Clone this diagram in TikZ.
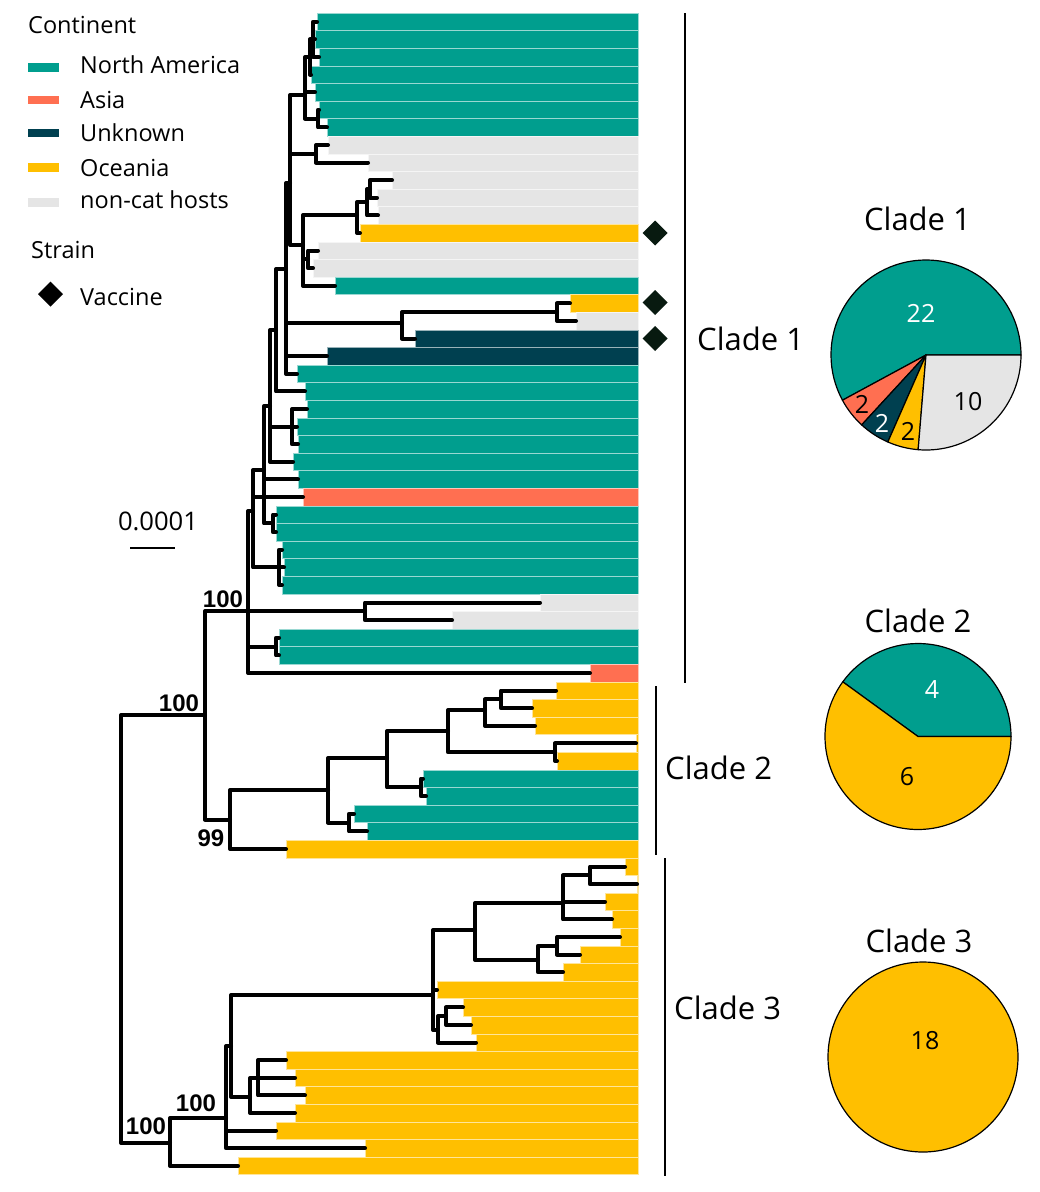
\documentclass[tikz,border=0pt]{standalone}
\usepackage{fontspec}
\setmainfont{Open Sans}
\newfontfamily\bsf{Liberation Sans}
\definecolor{na}{RGB}{0,158,142}
\definecolor{as}{RGB}{255,111,81}
\definecolor{un}{RGB}{0,64,80}
\definecolor{oc}{RGB}{255,191,0}
\definecolor{gr}{RGB}{229,229,229}
\definecolor{dia}{RGB}{8,26,16}
\newcommand\dmd[3]{\fill[#3] (#1,#2) ++(0,-12.5) -- ++(12.5,12.5) -- ++(-12.5,12.5) -- ++(-12.5,-12.5) -- cycle;}
\begin{document}
\begin{tikzpicture}[x=1pt,y=-1pt,
  br/.style={line width=4pt, line cap=round, line join=round},
  lg/.style={font=\fontsize{23.5}{28}\selectfont, inner sep=0pt, anchor=west, text height=16.8pt, text depth=0pt},
  cl/.style={font=\fontsize{31}{36}\selectfont, inner sep=0pt, text height=22.1pt, text depth=0pt},
  pn/.style={font=\fontsize{25}{30}\selectfont, inner sep=0pt, text height=17.9pt, text depth=0pt},
  bs/.style={font=\bsf\bfseries\fontsize{24}{28}\selectfont, inner sep=0pt, text height=17.2pt, text depth=0pt},
  pie/.style={draw=black, line width=1.2pt, line join=round},
  cline/.style={line width=2pt},
]
\useasboundingbox (0,0) rectangle (1040,1192);

% ---- bars and tips ----
\foreach \k/\x/\c in {0/317/na,1/315/na,2/319/na,3/311/na,4/315/na,5/319/na,6/327/na,
  7/328/gr,8/368/gr,9/392/gr,10/377/gr,11/378/gr,12/360/oc,13/318/gr,14/313/gr,15/335/na,
  16/570/oc,17/576/gr,18/415/un,19/327/un,20/297/na,21/305/na,22/307/na,23/297/na,24/298/na,
  25/293/na,26/298/na,27/303/as,28/276/na,29/276/na,30/282/na,31/284/na,32/282/na,33/540/gr,
  34/452/gr,35/279/na,36/279/na,37/590/as,38/556/oc,39/532/oc,40/535/oc,41/636/oc,42/557/oc,
  43/423/na,44/426/na,45/354/na,46/367/na,47/286/oc,48/625/oc,49/637/oc,50/605/oc,51/612/oc,
  52/620/oc,53/580/oc,54/563/oc,55/437/oc,56/463/oc,57/471/oc,58/476/oc,59/286/oc,60/295/oc,
  61/305/oc,62/295/oc,63/276/oc,64/365/oc,65/238/oc}{
  \fill[fill=\c, draw=white!60!\c, line width=0.35pt] (\x,{13+17.6*\k}) rectangle (638,{13+17.6*(\k+1)});
  \coordinate (t\k) at (\x,{21.8+17.6*\k});
}

% ---- internal nodes ----
\coordinate (ntopc) at (313,39.4);
\coordinate (ntopb) at (310,57);
\coordinate (ntop) at (305,95);
\coordinate (n56) at (318,118.6);
\coordinate (n78) at (316,153.8);
\coordinate (nc) at (370,189);
\coordinate (nb) at (367,202);
\coordinate (n912) at (357,215);
\coordinate (n1314) at (308,259.4);
\coordinate (n2) at (303,245);
\coordinate (n1) at (290,183);
\coordinate (n1617) at (557,312.2);
\coordinate (n1618) at (402,323);
\coordinate (m) at (286,269);
\coordinate (u4) at (276,330);
\coordinate (n2224) at (292,426.6);
\coordinate (u3) at (270,406);
\coordinate (n2829) at (273,523.4);
\coordinate (u2) at (264,470);
\coordinate (n3032) at (279,567.4);
\coordinate (u1) at (253,511);
\coordinate (n3334) at (365,611.4);
\coordinate (n3536) at (276,646.6);
\coordinate (c1) at (248,611);
\coordinate (c12) at (205,715);
\coordinate (root) at (121,900);
\coordinate (c2) at (230,819.5);
\coordinate (c2a) at (328,790);
\coordinate (c2b) at (387,758);
\coordinate (c2d) at (448,731);
\coordinate (n3840) at (485,710);
\coordinate (n3839) at (501,699.4);
\coordinate (n4142) at (555,752.2);
\coordinate (n4344) at (421,787.4);
\coordinate (c2c) at (349,822.6);
\coordinate (c3) at (170,1143);
\coordinate (c3a) at (226,1118);
\coordinate (ncc) at (231,1046);
\coordinate (nbb) at (250,1097);
\coordinate (naa) at (258,1078);
\coordinate (c3b) at (433,995);
\coordinate (ndd) at (438,1030);
\coordinate (nee) at (446,1016.2);
\coordinate (c3c) at (475,930);
\coordinate (c3d) at (563,903);
\coordinate (n4849) at (590,875.4);
\coordinate (c3e) at (538,960);
\coordinate (n5253) at (557,945.8);

% ---- branches ----
\foreach \p/\q in {ntopc/t0,ntopc/t1,ntopc/t2,ntopb/ntopc,ntopb/t3,ntop/ntopb,ntop/t4,ntop/n56,
  n56/t5,n56/t6,n1/ntop,n1/n78,n1/n2,n78/t7,n78/t8,nc/t9,nc/t10,nb/nc,nb/t11,n912/nb,n912/t12,
  n1314/t13,n1314/t14,n2/n912,n2/n1314,n2/t15,n1617/t16,n1617/t17,n1618/n1617,n1618/t18,
  m/n1,m/n1618,m/t19,m/t20,u4/m,u4/t21,n2224/t22,n2224/t23,n2224/t24,u3/u4,u3/n2224,u3/t25,
  n2829/t28,n2829/t29,u2/u3,u2/t26,u2/n2829,n3032/t30,n3032/t31,n3032/t32,u1/u2,u1/t27,u1/n3032,
  n3334/t33,n3334/t34,n3536/t35,n3536/t36,c1/u1,c1/n3334,c1/n3536,c1/t37,
  c12/c1,c12/c2,root/c12,root/c3,
  c2/c2a,c2/t47,c2a/c2b,c2a/c2c,c2b/c2d,c2b/n4344,c2d/n3840,c2d/n4142,n3840/n3839,n3840/t40,
  n3839/t38,n3839/t39,n4142/t41,n4142/t42,n4344/t43,n4344/t44,c2c/t45,c2c/t46,
  c3/c3a,c3/t65,c3a/ncc,c3a/t63,c3a/t64,ncc/c3b,ncc/nbb,nbb/naa,nbb/t62,naa/t59,naa/t60,naa/t61,
  c3b/c3c,c3b/t55,c3b/ndd,ndd/nee,ndd/t58,nee/t56,nee/t57,c3c/c3d,c3c/c3e,c3d/n4849,c3d/t50,
  c3d/t51,n4849/t48,n4849/t49,c3e/n5253,c3e/t54,n5253/t52,n5253/t53}{
  \draw[br] (\p) |- (\q);
}

% ---- bootstrap values ----
\node[bs] (b1) at (223,599) {100};
\node[bs] (b2) at (179,703) {100};
\node[bs] (b3) at (211,838) {99};
\node[bs] (b4) at (196,1103) {100};
\node[bs] (b5) at (146,1126) {100};

% ---- scale bar ----
\node[font=\fontsize{25.6}{30}\selectfont, inner sep=0pt, text height=18.3pt, text depth=0pt] (sc) at (158,521) {0.0001};
\draw[cline] (130,548) -- (175,548);

% ---- vaccine markers ----
\dmd{655}{233}{dia}
\dmd{655}{302.5}{dia}
\dmd{655}{338.5}{dia}

% ---- clade bars ----
\draw[cline] (685,13) -- (685,683);
\draw[cline] (656,686) -- (656,855);
\draw[cline] (665,858) -- (665,1176);
\node[cl, anchor=west] (cl1) at (697,339.5) {Clade 1};
\node[cl, anchor=west] (cl2) at (665,768) {Clade 2};
\node[cl, anchor=west] (cl3) at (674,1008) {Clade 3};

% ---- legend ----
\node[lg] (lgc) at (28,25) {Continent};
\fill[na] (27.7,63.3) rectangle (59.3,71.7);
\fill[as] (27.7,95.7) rectangle (59.3,104);
\fill[un] (27.7,129) rectangle (59.3,137.3);
\fill[oc] (27.7,163.3) rectangle (59.3,171.7);
\fill[gr] (27.7,198.3) rectangle (59.3,206.7);
\node[lg] (l1) at (80,65) {North America};
\node[lg] (l2) at (80,100.5) {Asia};
\node[lg] (l3) at (80,133) {Unknown};
\node[lg] (l4) at (80,168) {Oceania};
\node[lg] (l5) at (80,200) {non-cat hosts};
\node[lg] (ls) at (31,250) {Strain};
\dmd{50.5}{294}{black}
\node[lg] (lv) at (80,297.5) {Vaccine};

% ---- pie clade 1 ----
\coordinate (p1) at (926,355);
\filldraw[fill=na, pie] (p1) -- ++(0:95) arc[start angle=0, end angle=-208.421, radius=95] -- cycle;
\filldraw[fill=as, pie] (p1) -- ++(-208.421:95) arc[start angle=-208.421, end angle=-227.368, radius=95] -- cycle;
\filldraw[fill=un, pie] (p1) -- ++(-227.368:95) arc[start angle=-227.368, end angle=-246.316, radius=95] -- cycle;
\filldraw[fill=oc, pie] (p1) -- ++(-246.316:95) arc[start angle=-246.316, end angle=-265.263, radius=95] -- cycle;
\filldraw[fill=gr, pie] (p1) -- ++(-265.263:95) arc[start angle=-265.263, end angle=-360, radius=95] -- cycle;
\node[cl] (pt1) at (917.5,219) {Clade 1};
\node[pn, text=white] (v1) at (921,314) {22};
\node[pn] (v2) at (968,401.5) {10};
\node[pn] (v3) at (862,405) {2};
\node[pn, text=white] (v4) at (882,423.5) {2};
\node[pn] (v5) at (908,431.5) {2};

% ---- pie clade 2 ----
\coordinate (p2) at (918,736.5);
\filldraw[fill=na, pie] (p2) -- ++(0:93) arc[start angle=0, end angle=-144, radius=93] -- cycle;
\filldraw[fill=oc, pie] (p2) -- ++(-144:93) arc[start angle=-144, end angle=-360, radius=93] -- cycle;
\node[cl] (pt2) at (918,621) {Clade 2};
\node[pn, text=white] (v6) at (932,690) {4};
\node[pn] (v7) at (907,777) {6};

% ---- pie clade 3 ----
\coordinate (p3) at (923,1057);
\filldraw[fill=oc, pie] (p3) circle[radius=95];
\node[cl] (pt3) at (919,941) {Clade 3};
\node[pn] (v8) at (925,1041) {18};
\end{tikzpicture}
\end{document}
